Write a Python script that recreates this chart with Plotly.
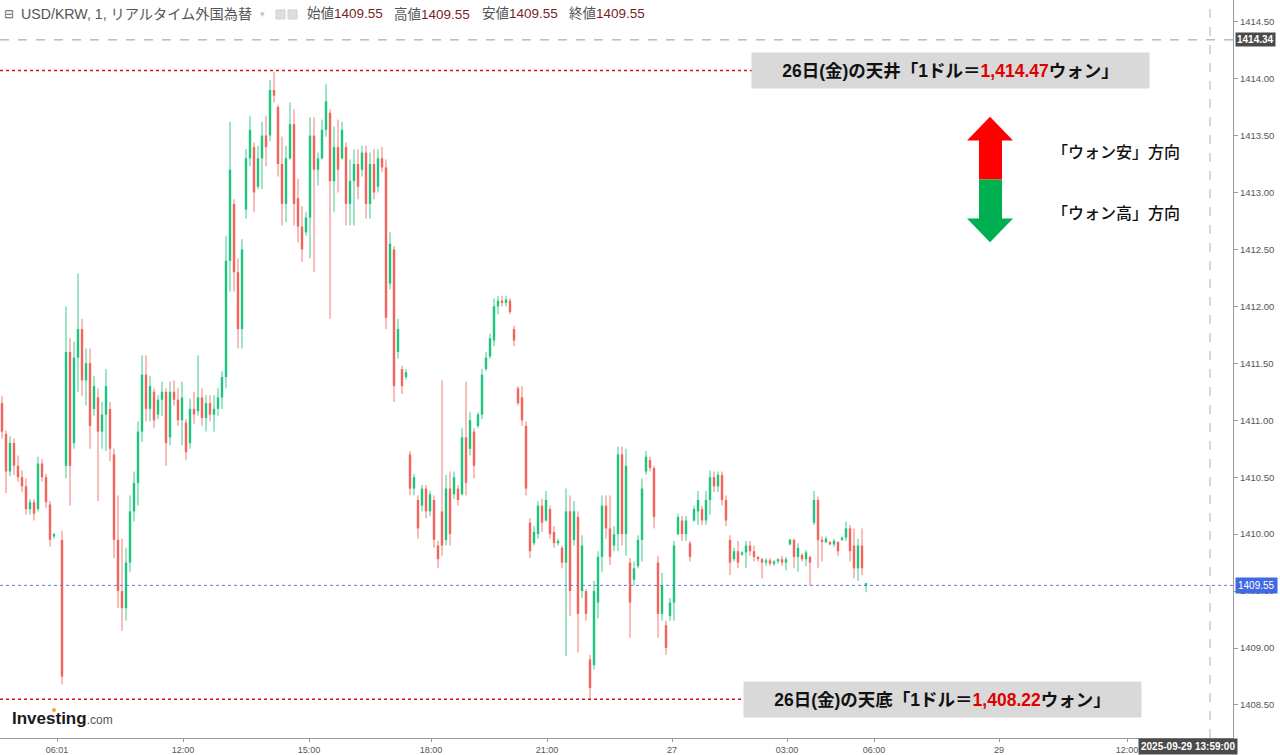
import plotly.graph_objects as go

# ---------------- data (USD/KRW, 1-minute, grouped columns) ----------------
highs = [
    1411.21, 1410.91, 1410.86, 1410.84, 1410.69, 1410.56, 1410.49, 1410.31, 1410.31, 1410.68,
    1410.66, 1410.53, 1410.29, 1410.01, None, 1410.03, 1412.00, 1411.72, 1411.69, 1412.29,
    1411.89, 1411.63, 1411.63, 1411.39, 1411.28, 1411.16, 1411.45, 1411.16, 1410.75, 1410.34,
    1409.96, 1409.88, 1410.34, 1410.55, 1410.99, 1411.57, 1411.57, 1411.39, 1411.28, 1411.22,
    1411.34, 1411.28, 1411.34, 1411.35, 1411.28, 1411.34, 1411.01, 1411.19, 1411.25, 1411.57,
    1411.28, 1411.22, 1411.22, 1411.22, 1411.28, 1411.43, 1412.62, 1413.62, 1412.94, 1412.42,
    1412.59, 1413.38, 1413.67, 1413.44, 1413.41, 1413.62, 1413.67, 1413.99, 1414.06, 1413.77,
    1413.49, 1413.41, 1413.79, 1413.73, 1413.12, 1412.88, 1412.83, 1413.66, 1413.66, 1413.35,
    1413.64, 1413.95, 1413.73, 1413.58, 1413.64, 1413.62, 1413.44, 1413.29, 1413.38, 1413.38,
    1413.41, 1413.41, 1413.35, 1413.38, 1413.38, 1413.40, 1413.29, 1412.65, 1412.53, 1411.89,
    1411.48, 1411.45, 1410.73, 1410.53, 1410.34, 1410.43, 1410.43, 1410.38, 1410.34, 1409.94,
    1411.35, 1410.52, 1410.55, 1410.55, 1410.43, 1410.93, 1411.34, 1411.07, 1410.93, 1411.07,
    1411.45, 1411.60, 1411.76, 1412.07, 1412.09, 1412.09, 1412.09, 1412.07, 1411.83, 1411.30,
    1411.30, 1410.99, 1410.14, 1410.07, 1410.29, 1410.31, 1410.38, 1410.25, 1410.07, 1409.96,
    1409.90, 1410.40, 1410.34, 1410.29, 1410.20, 1409.99, 1409.52, 1408.94, 1409.59, 1409.85,
    1410.34, 1410.34, 1410.34, 1410.07, 1410.77, 1410.77, 1410.75, 1409.79, 1409.76, 1409.99,
    1410.49, 1410.73, 1410.68, 1410.60, 1409.81, 1409.66, 1409.24, 1409.44, 1409.94, 1410.18,
    1410.16, 1410.16, 1409.94, 1410.25, 1410.38, 1410.25, 1410.38, 1410.56, 1410.55, 1410.55,
    1410.55, 1410.34, 1409.99, 1409.88, 1409.94, 1409.85, 1409.94, 1409.94, 1409.90, 1409.81,
    1409.79, 1409.79, 1409.79, 1409.77, 1409.79, 1409.81, 1409.80, 1409.96, 1409.96, 1409.92,
    1409.83, 1409.86, 1409.81, 1410.38, 1410.33, 1409.98, 1409.98, 1409.94, 1409.96, 1409.94,
    1409.98, 1410.11, 1410.08, 1410.05, 1409.96, 1410.05, 1409.55,
]
lows = [
    1410.84, 1410.36, 1410.51, 1410.52, 1410.46, 1410.37, 1410.17, 1410.17, 1410.12, 1410.20,
    1410.46, 1410.23, 1409.89, 1409.96, None, 1408.68, 1410.49, 1410.25, 1410.75, 1411.25,
    1411.21, 1411.13, 1410.75, 1411.04, 1410.29, 1410.75, 1410.73, 1410.64, 1409.79, 1409.35,
    1409.15, 1409.24, 1409.67, 1410.11, 1410.25, 1410.81, 1410.99, 1410.99, 1410.93, 1411.01,
    1411.04, 1410.60, 1410.78, 1411.13, 1410.95, 1410.78, 1410.65, 1410.75, 1410.97, 1411.04,
    1410.95, 1410.90, 1410.99, 1410.90, 1411.04, 1411.10, 1411.28, 1412.13, 1412.13, 1411.63,
    1411.63, 1412.77, 1413.23, 1412.83, 1413.03, 1413.03, 1413.23, 1413.45, 1413.79, 1413.14,
    1412.71, 1412.74, 1413.29, 1412.71, 1412.56, 1412.39, 1412.62, 1412.42, 1412.30, 1413.06,
    1413.29, 1413.49, 1411.89, 1412.83, 1413.00, 1413.29, 1412.71, 1412.71, 1412.71, 1412.94,
    1413.14, 1412.77, 1412.77, 1412.94, 1413.00, 1413.18, 1411.80, 1412.15, 1411.16, 1411.54,
    1411.23, 1411.36, 1410.34, 1410.34, 1409.96, 1410.20, 1410.14, 1410.16, 1409.88, 1409.70,
    1409.81, 1409.90, 1409.90, 1410.31, 1410.25, 1410.34, 1410.34, 1410.69, 1410.49, 1410.93,
    1411.01, 1411.43, 1411.54, 1411.65, 1411.93, 1412.00, 1412.00, 1411.93, 1411.65, 1411.13,
    1410.95, 1410.34, 1409.79, 1409.90, 1409.96, 1410.02, 1410.11, 1409.96, 1409.88, 1409.90,
    1409.70, 1408.93, 1409.28, 1409.90, 1408.96, 1409.44, 1409.24, 1408.54, 1408.81, 1409.26,
    1409.67, 1409.96, 1409.73, 1409.85, 1409.85, 1409.90, 1409.81, 1409.09, 1409.55, 1409.70,
    1409.76, 1410.52, 1410.55, 1410.05, 1409.09, 1409.24, 1408.94, 1409.24, 1409.24, 1409.99,
    1409.94, 1409.94, 1409.76, 1410.11, 1410.08, 1410.08, 1410.08, 1410.17, 1410.37, 1410.37,
    1410.25, 1410.07, 1409.64, 1409.76, 1409.70, 1409.81, 1409.70, 1409.81, 1409.76, 1409.76,
    1409.61, 1409.72, 1409.72, 1409.72, 1409.74, 1409.72, 1409.68, 1409.90, 1409.70, 1409.67,
    1409.76, 1409.72, 1409.55, 1410.08, 1409.70, 1409.76, 1409.92, 1409.90, 1409.89, 1409.81,
    1409.94, 1409.94, 1409.76, 1409.61, 1409.59, 1409.64, 1409.49,
]
opens = [
    1411.15, 1410.88, 1410.55, 1410.80, 1410.60, 1410.50, 1410.42, 1410.22, 1410.28, 1410.22,
    1410.62, 1410.50, 1410.26, 1409.98, None, 1409.95, 1410.60, 1411.60, 1410.80, 1411.55,
    1411.80, 1411.35, 1411.50, 1411.10, 1411.20, 1410.90, 1411.05, 1411.10, 1410.70, 1409.95,
    1409.50, 1409.35, 1409.75, 1410.20, 1410.45, 1410.90, 1411.40, 1411.10, 1411.25, 1411.05,
    1411.18, 1411.25, 1410.85, 1411.25, 1411.18, 1411.00, 1410.98, 1410.80, 1411.10, 1411.08,
    1411.20, 1411.02, 1411.15, 1411.05, 1411.10, 1411.20, 1411.38, 1412.40, 1412.90, 1412.30,
    1411.80, 1412.85, 1413.30, 1413.40, 1413.05, 1413.30, 1413.50, 1413.50, 1413.90, 1413.75,
    1413.25, 1412.90, 1413.30, 1413.60, 1412.95, 1412.70, 1412.65, 1412.78, 1413.50, 1413.20,
    1413.30, 1413.55, 1413.70, 1413.10, 1413.40, 1413.30, 1413.40, 1412.90, 1413.10, 1413.25,
    1413.20, 1413.35, 1412.90, 1413.25, 1413.05, 1413.30, 1413.22, 1412.20, 1412.50, 1411.60,
    1411.45, 1411.38, 1410.70, 1410.40, 1410.30, 1410.25, 1410.40, 1410.20, 1410.30, 1409.90,
    1410.20, 1409.95, 1410.40, 1410.35, 1410.40, 1410.35, 1410.85, 1410.75, 1410.90, 1410.95,
    1411.05, 1411.45, 1411.56, 1411.70, 1412.00, 1412.05, 1412.03, 1412.05, 1411.80, 1411.28,
    1411.20, 1410.95, 1410.10, 1409.92, 1410.00, 1410.25, 1410.12, 1410.22, 1410.02, 1409.92,
    1409.88, 1409.75, 1410.20, 1409.95, 1410.15, 1409.50, 1409.50, 1408.90, 1408.85, 1409.40,
    1409.80, 1410.25, 1410.05, 1409.90, 1410.00, 1410.70, 1410.00, 1409.75, 1409.60, 1409.72,
    1409.95, 1410.55, 1410.65, 1410.58, 1409.75, 1409.30, 1409.20, 1409.28, 1409.40, 1410.00,
    1410.12, 1410.00, 1409.92, 1410.12, 1410.20, 1410.22, 1410.12, 1410.30, 1410.50, 1410.42,
    1410.52, 1410.30, 1409.95, 1409.78, 1409.85, 1409.82, 1409.84, 1409.90, 1409.85, 1409.80,
    1409.78, 1409.75, 1409.77, 1409.74, 1409.76, 1409.78, 1409.75, 1409.91, 1409.95, 1409.80,
    1409.82, 1409.78, 1409.80, 1410.10, 1410.30, 1409.95, 1409.93, 1409.93, 1409.91, 1409.93,
    1409.95, 1409.97, 1410.05, 1409.90, 1409.70, 1409.90, 1409.55,
]
closes = [
    1410.90, 1410.55, 1410.80, 1410.60, 1410.50, 1410.42, 1410.22, 1410.28, 1410.18, 1410.62,
    1410.50, 1410.28, 1409.95, 1409.99, None, 1408.75, 1411.60, 1410.60, 1411.55, 1411.80,
    1411.35, 1411.50, 1410.95, 1411.30, 1410.90, 1411.05, 1411.30, 1410.75, 1409.95, 1409.50,
    1409.35, 1409.75, 1410.20, 1410.45, 1410.90, 1411.40, 1411.10, 1411.30, 1411.00, 1411.18,
    1411.25, 1410.80, 1411.25, 1411.18, 1411.00, 1411.20, 1410.72, 1411.10, 1411.05, 1411.20,
    1411.02, 1411.15, 1411.05, 1411.10, 1411.20, 1411.38, 1412.40, 1413.20, 1412.30, 1411.80,
    1412.50, 1413.30, 1413.55, 1413.00, 1413.30, 1413.50, 1413.40, 1413.90, 1413.85, 1413.25,
    1412.90, 1413.30, 1413.60, 1412.90, 1412.70, 1412.50, 1412.78, 1413.50, 1413.20, 1413.30,
    1413.55, 1413.80, 1413.10, 1413.40, 1413.20, 1413.55, 1412.90, 1413.10, 1413.25, 1413.05,
    1413.35, 1412.90, 1413.25, 1413.00, 1413.30, 1413.22, 1411.90, 1412.55, 1411.30, 1411.80,
    1411.30, 1411.42, 1410.40, 1410.50, 1410.05, 1410.40, 1410.20, 1410.35, 1409.95, 1409.78,
    1409.90, 1410.40, 1410.00, 1410.50, 1410.30, 1410.85, 1410.45, 1411.00, 1410.60, 1411.05,
    1411.40, 1411.55, 1411.72, 1412.00, 1412.05, 1412.03, 1412.06, 1411.95, 1411.70, 1411.15,
    1411.00, 1410.40, 1409.85, 1410.02, 1410.25, 1410.10, 1410.30, 1410.00, 1409.92, 1409.94,
    1409.75, 1410.20, 1409.50, 1410.20, 1409.30, 1409.90, 1409.30, 1408.65, 1409.50, 1409.80,
    1410.25, 1410.05, 1409.80, 1410.00, 1410.70, 1410.00, 1410.60, 1409.40, 1409.70, 1409.95,
    1410.40, 1410.68, 1410.58, 1410.15, 1409.30, 1409.55, 1409.00, 1409.40, 1409.90, 1410.15,
    1410.00, 1410.12, 1409.80, 1410.22, 1410.30, 1410.12, 1410.30, 1410.50, 1410.42, 1410.52,
    1410.30, 1410.12, 1409.75, 1409.85, 1409.75, 1409.84, 1409.90, 1409.85, 1409.80, 1409.78,
    1409.75, 1409.77, 1409.74, 1409.76, 1409.78, 1409.75, 1409.78, 1409.95, 1409.80, 1409.88,
    1409.78, 1409.84, 1409.75, 1410.30, 1409.95, 1409.93, 1409.96, 1409.91, 1409.94, 1409.85,
    1409.97, 1410.05, 1409.85, 1409.70, 1409.90, 1409.70, 1409.55,
]

x_tick_pos = [13.75, 45.25, 76.75, 107.25, 136.25, 167.5, 196.25, 218.0, 249.25, 281.25]
x_tick_labels = ["06:01", "12:00", "15:00", "18:00", "21:00", "27", "03:00", "06:00", "29", "12:00"]

day_high_line = 1414.07
day_low_line = 1408.55
last_price = 1409.55
cross_price = 1414.34
cross_x = 302
cross_time = "2025-09-29 13:59:00"

UP = "#1cc47e"
DOWN = "#f2645c"

# ---------------- build candles as wick/body line segments ----------------
seg = {"up": {"wx": [], "wy": [], "bx": [], "by": []},
       "down": {"wx": [], "wy": [], "bx": [], "by": []}}
for i, (o, h, l, c) in enumerate(zip(opens, highs, lows, closes)):
    if h is None:
        continue
    k = "up" if c >= o else "down"
    s = seg[k]
    s["wx"] += [i, i, None]
    s["wy"] += [l, h, None]
    lo, hi = min(o, c), max(o, c)
    if hi - lo < 0.02:
        hi = lo + 0.02
    s["bx"] += [i, i, None]
    s["by"] += [lo, hi, None]

fig = go.Figure()
for k, col in (("up", UP), ("down", DOWN)):
    s = seg[k]
    fig.add_trace(go.Scatter(x=s["wx"], y=s["wy"], mode="lines",
                             line=dict(color=col, width=1), opacity=0.85,
                             hoverinfo="skip", showlegend=False))
    fig.add_trace(go.Scatter(x=s["bx"], y=s["by"], mode="lines",
                             line=dict(color=col, width=2.4),
                             hoverinfo="skip", showlegend=False))

PLOT_W, PLOT_H = 1233.0, 740.0
def px(xp):
    return xp / PLOT_W
def py(yp):
    return 1 - yp / PLOT_H

shapes = []
shapes.append(dict(type="line", xref="paper", x0=0, x1=1, yref="y", y0=last_price, y1=last_price,
                   line=dict(color="#5b78e6", width=1, dash="dot")))
shapes.append(dict(type="line", xref="paper", x0=0, x1=1, yref="y", y0=cross_price, y1=cross_price,
                   line=dict(color="#9a9a9a", width=1, dash="dash")))
shapes.append(dict(type="line", xref="x", x0=cross_x, x1=cross_x, yref="paper", y0=0, y1=1,
                   line=dict(color="#b0b0b0", width=1, dash="dash")))
shapes.append(dict(type="line", xref="paper", x0=0, x1=px(752), yref="y", y0=day_high_line, y1=day_high_line,
                   line=dict(color="#e01010", width=1.5, dash="dot")))
shapes.append(dict(type="line", xref="paper", x0=0, x1=px(745), yref="y", y0=day_low_line, y1=day_low_line,
                   line=dict(color="#e01010", width=1.5, dash="dot")))

def path(pts):
    return "M " + " L ".join(f"{px(a):.5f},{py(b):.5f}" for a, b in pts) + " Z"
red_pts = [(990, 117), (1013, 141), (1002, 141), (1002, 180), (979, 180), (979, 141), (967, 141)]
green_pts = [(979, 180), (1002, 180), (1002, 219), (1013, 219), (990, 243), (967, 219), (979, 219)]
shapes.append(dict(type="path", xref="paper", yref="paper", path=path(red_pts),
                   fillcolor="#ff0000", line=dict(width=0)))
shapes.append(dict(type="path", xref="paper", yref="paper", path=path(green_pts),
                   fillcolor="#00b050", line=dict(width=0)))
for x0 in (276, 288):
    shapes.append(dict(type="rect", xref="paper", yref="paper", x0=px(x0), x1=px(x0 + 9),
                       y0=py(19), y1=py(10), fillcolor="#dedede", line=dict(color="#cfcfcf", width=1)))
shapes.append(dict(type="circle", xref="paper", yref="paper", x0=px(52), x1=px(56), y0=py(714), y1=py(710),
                   fillcolor="#f5a623", line=dict(width=0)))

JP = "Noto Sans CJK JP"
LAT = "Liberation Sans Narrow, Liberation Sans, " + JP
annotations = []
def hdr(x, text, color="#555555", size=13.5):
    annotations.append(dict(xref="paper", yref="paper", x=px(x), y=py(14), xanchor="left", yanchor="middle",
                            text=text, showarrow=False, font=dict(family=LAT, size=size, color=color)))
hdr(2, "⊟", "#666666", 12)
hdr(19, "USD/KRW, 1, リアルタイム外国為替", size=14.2)
hdr(258, "▾", "#c0c0c0", 9)
val = f"<span style='color:#7a1f1f'>{last_price:.2f}</span>"
hdr(305, "始値" + val)
hdr(392, "高値" + val)
hdr(480, "安値" + val)
hdr(567, "終値" + val)

def box(text, red, xc, price):
    t = (f"<b>26日(金)の{text}「1ドル＝<span style='color:#e00000'>{red}</span>ウォン」</b>")
    return dict(xref="paper", yref="y", x=px(xc), y=price, xanchor="center", yanchor="middle",
                text=t, showarrow=False, bgcolor="#d9d9d9", width=395, height=33,
                font=dict(family="Liberation Sans, " + JP, size=17.5, color="#111"))
annotations.append(box("天井", "1,414.47", 950, day_high_line))
annotations.append(box("天底", "1,408.22", 942, day_low_line))

for ytxt, t in ((151, "「ウォン安」方向"), (213, "「ウォン高」方向")):
    annotations.append(dict(xref="paper", yref="paper", x=px(1050), y=py(ytxt), xanchor="left", yanchor="middle",
                            text=t, showarrow=False,
                            font=dict(family=JP, size=16, color="#111", weight=500)))

annotations.append(dict(xref="paper", yref="y", x=1, y=last_price, xanchor="left", yanchor="middle",
                        text=f"{last_price:.2f}", showarrow=False, bgcolor="#4169e1", borderpad=2, xshift=2,
                        font=dict(family="Liberation Sans", size=10, color="white")))
annotations.append(dict(xref="paper", yref="y", x=1, y=cross_price, xanchor="left", yanchor="middle",
                        text=f"<b>{cross_price:.2f}</b>", showarrow=False, bgcolor="#4a4a4a", borderpad=1, xshift=2,
                        font=dict(family="Liberation Sans", size=10, color="white")))
annotations.append(dict(xref="paper", yref="paper", x=1, y=0, xanchor="right", yanchor="top",
                        text=f"<b>{cross_time}</b>", showarrow=False, bgcolor="#4a4a4a", borderpad=2, xshift=5,
                        font=dict(family="Liberation Sans Narrow, Liberation Sans", size=10, color="white")))
annotations.append(dict(xref="paper", yref="paper", x=px(10), y=py(720), xanchor="left", yanchor="middle",
                        text="<b>Investing</b><span style='font-size:12px;color:#555'>.com</span>",
                        showarrow=False, font=dict(family="Liberation Sans", size=17, color="#1a1a1a")))

fig.update_layout(
    width=1280, height=755,
    margin=dict(l=0, r=47, t=0, b=15),
    paper_bgcolor="white", plot_bgcolor="white",
    shapes=shapes, annotations=annotations,
    showlegend=False,
    xaxis=dict(range=[-0.5, 307.75], tickvals=x_tick_pos, ticktext=x_tick_labels,
               showgrid=False, zeroline=False, showline=True, linecolor="#9a9a9a",
               ticks="outside", ticklen=3, tickcolor="#9a9a9a",
               tickfont=dict(family="Liberation Sans", size=9, color="#555")),
    yaxis=dict(range=[1408.21, 1414.69], side="right", dtick=0.5, tick0=1408.5, tickformat=".2f",
               showgrid=False, zeroline=False, showline=True, linecolor="#9a9a9a",
               ticks="outside", ticklen=4, tickcolor="#9a9a9a",
               tickfont=dict(family="Liberation Sans", size=9.5, color="#555")),
)

fig.write_html("out.html", config={"displayModeBar": False},
               post_script="document.body.style.margin='0';document.body.style.overflow='hidden';")
